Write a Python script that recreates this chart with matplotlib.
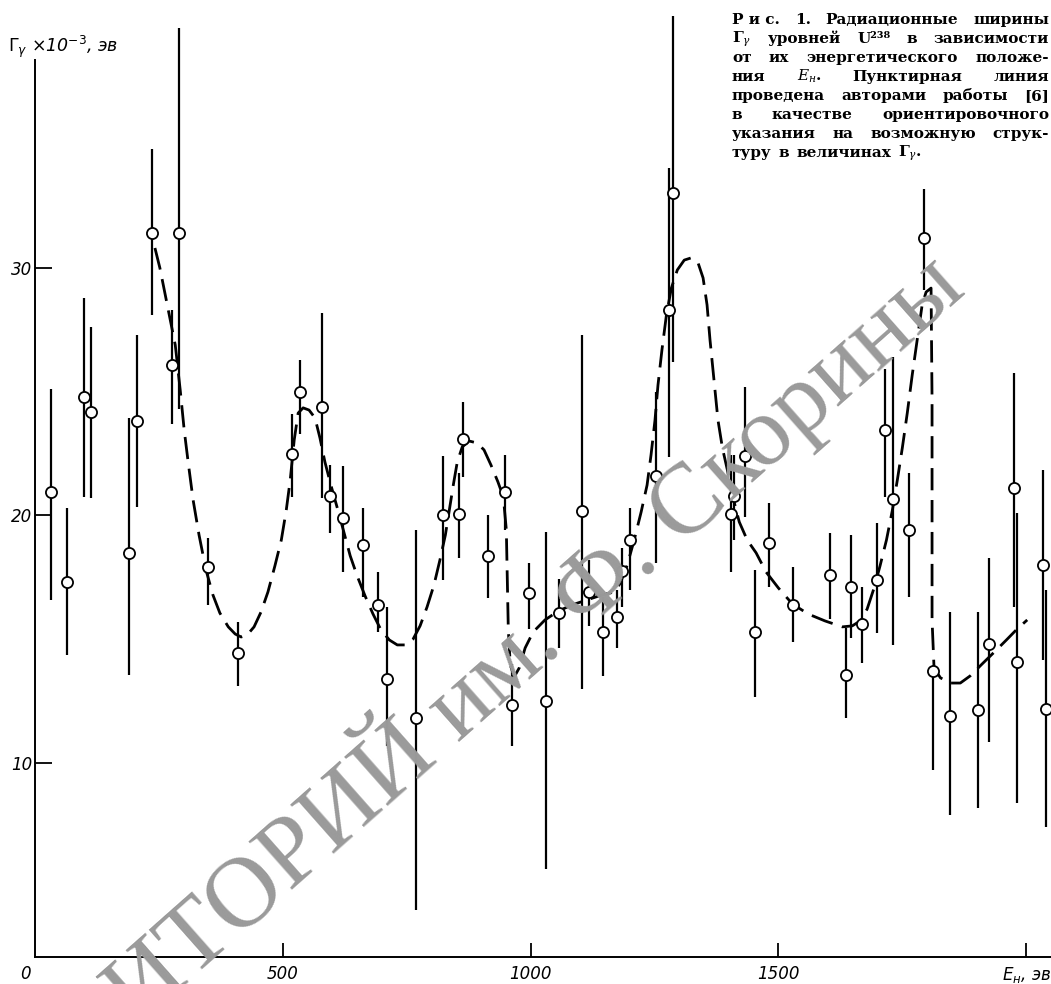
import matplotlib
matplotlib.use("Agg")
import matplotlib.pyplot as plt

# resonance energies, eV
E = [32, 65, 99, 113, 190, 206, 236, 277, 291, 349,
     410, 519, 535, 579, 596, 622, 662, 693, 711, 769,
     824, 856, 864, 915, 949, 963, 997, 1032, 1058, 1104,
     1118, 1147, 1175, 1185, 1201, 1252, 1280, 1288, 1405, 1411,
     1433, 1452, 1480, 1530, 1605, 1637, 1647, 1669, 1698, 1716,
     1732, 1763, 1793, 1811, 1847, 1902, 1925, 1975, 1982, 2033,
     2039]
# radiation widths, 10^-3 eV
G = [20.95, 17.3, 24.8, 24.2, 18.5, 23.8, 31.4, 26.1, 31.4, 17.9,
     14.45, 22.5, 25.0, 24.4, 20.8, 19.9, 18.8, 16.4, 13.4, 11.8,
     20.0, 20.05, 23.1, 18.35, 20.95, 12.35, 16.85, 12.5, 16.05, 20.2,
     16.9, 15.3, 15.9, 17.75, 19.0, 21.6, 28.3, 33.05, 20.05, 20.8,
     22.4, 15.3, 18.9, 16.4, 17.6, 13.55, 17.1, 15.6, 17.4, 23.45,
     20.65, 19.4, 31.2, 13.7, 11.9, 12.15, 14.8, 21.1, 14.1, 18.0,
     12.2]
G_lo = [16.6, 14.35, 20.75, 20.7, 13.55, 20.35, 28.1, 23.7, 24.3, 16.4,
        13.1, 20.75, 23.3, 20.7, 19.3, 17.7, 16.7, 15.3, 10.7, 4.05,
        17.4, 18.3, 21.55, 16.65, 19.4, 10.7, 15.4, 5.7, 14.65, 13.0,
        15.55, 13.5, 14.65, 16.3, 17.0, 18.1, 22.35, 26.2, 17.7, 19.0,
        19.95, 12.65, 17.1, 14.9, 15.8, 11.8, 15.05, 14.05, 15.25, 20.75,
        14.75, 16.7, 29.1, 9.7, 7.9, 8.2, 10.85, 16.3, 8.4, 14.15,
        7.4]
G_hi = [25.1, 20.3, 28.8, 27.6, 23.95, 27.3, 34.8, 28.3, 39.7, 19.1,
        15.7, 24.1, 26.3, 28.2, 22.05, 22.0, 20.3, 17.7, 16.3, 19.4,
        22.4, 21.7, 24.6, 20.0, 22.45, 14.0, 18.1, 19.35, 17.45, 27.3,
        18.2, 16.7, 17.0, 18.7, 20.3, 25.0, 34.05, 40.2, 22.45, 22.45,
        25.2, 17.8, 20.5, 17.9, 19.3, 15.45, 19.2, 17.1, 19.7, 25.9,
        26.4, 21.7, 33.2, 13.7, 16.1, 16.1, 18.3, 25.75, 20.1, 21.85,
        17.0]

# guide curve drawn through the data (dashed)
curve_E = [242, 252, 262, 273, 283, 293, 301, 309, 319, 331,
           345, 359, 373, 390, 404, 416, 428, 442, 456, 470,
           484, 497, 507, 515, 523, 531, 541, 553, 565, 575,
           585, 597, 610, 622, 636, 650, 666, 682, 698, 715,
           731, 747, 763, 777, 791, 805, 817, 828, 836, 844,
           852, 862, 876, 892, 906, 920, 934, 945, 951, 953,
           955, 959, 967, 977, 989, 1005, 1029, 1056, 1084, 1114,
           1144, 1169, 1181, 1195, 1209, 1223, 1235, 1243, 1251, 1257,
           1265, 1274, 1284, 1296, 1310, 1324, 1338, 1348, 1356, 1362,
           1370, 1378, 1387, 1397, 1407, 1421, 1437, 1455, 1475, 1500,
           1528, 1560, 1594, 1629, 1649, 1665, 1679, 1693, 1705, 1718,
           1730, 1740, 1750, 1760, 1770, 1780, 1790, 1798, 1808, 1810,
           1810, 1810, 1814, 1827, 1847, 1867, 1887, 1911, 1936, 1960,
           1980, 2002]
curve_G = [30.81, 30.0, 28.99, 27.9, 26.89, 25.07, 23.46, 22.16, 20.63, 19.21,
           17.8, 16.79, 16.06, 15.5, 15.21, 15.09, 15.17, 15.5, 16.1, 16.91,
           17.96, 19.01, 20.22, 21.44, 23.05, 24.14, 24.35, 24.26, 23.94, 23.13,
           22.16, 21.23, 20.3, 19.42, 18.37, 17.56, 16.75, 16.02, 15.38, 14.97,
           14.77, 14.77, 15.01, 15.54, 16.3, 17.19, 18.2, 19.21, 20.22, 21.23,
           22.16, 22.77, 23.01, 22.93, 22.65, 22.04, 21.36, 20.75, 19.42, 17.4,
           15.38, 13.96, 13.48, 13.84, 14.65, 15.29, 15.78, 16.14, 16.39, 16.59,
           16.79, 16.91, 17.27, 18.0, 19.01, 20.14, 21.23, 22.45, 23.86, 25.27,
           26.69, 28.1, 29.19, 29.92, 30.32, 30.41, 30.2, 29.6, 28.51, 27.09,
           25.48, 23.86, 22.73, 21.84, 20.83, 19.74, 19.01, 18.49, 17.72, 17.07,
           16.43, 16.02, 15.74, 15.5, 15.54, 15.74, 16.22, 17.07, 17.96, 19.01,
           20.22, 21.44, 22.73, 24.14, 25.68, 27.09, 28.51, 29.03, 29.19, 24.67,
           19.82, 15.78, 13.84, 13.44, 13.23, 13.23, 13.52, 14.0, 14.49, 14.97,
           15.38, 15.78]

caption = [
    "Р и с. 1. Радиационные ширины",
    r"$\mathbf{\Gamma}_{\gamma}$ уровней U²³⁸ в зависимости",
    "от их энергетического положе-",
    r"ния $E_{н}$. Пунктирная линия",
    "проведена авторами работы [6]",
    "в качестве ориентировочного",
    "указания на возможную струк-",
    r"туру в величинах $\mathbf{\Gamma}_{\gamma}$.",
]

W, H = 1051, 984
fig = plt.figure(figsize=(W / 100, H / 100), dpi=100)
fig.patch.set_facecolor("white")
ax = fig.add_axes([35 / W, 27 / H, (W - 35) / W, (H - 27) / H])
ax.set_xlim(0, 2050)
ax.set_ylim(2.16, 40.83)

for s in ["top", "right"]:
    ax.spines[s].set_visible(False)
ax.spines["left"].set_bounds(2.16, 38.4)
ax.spines["left"].set_linewidth(1.4)
ax.spines["bottom"].set_linewidth(1.4)

ax.set_xticks([500, 1000, 1500, 2000])
ax.set_xticklabels(["500", "1000", "1500", r"$E_{н}$, эв"])
ax.set_yticks([10, 20, 30])
ax.tick_params(axis="x", direction="in", length=10, width=1.3, pad=6, labelsize=12)
ax.tick_params(axis="y", direction="in", length=12, width=1.3, pad=2, labelsize=12)
for lbl in ax.get_xticklabels() + ax.get_yticklabels():
    lbl.set_style("italic")
    lbl.set_family("DejaVu Sans")

fig.text(25 / W, 1 - 965 / H, "0", ha="center", va="top", fontsize=12, style="italic")
fig.text(8 / W, 1 - 52 / H, r"$\mathit{\Gamma}_{\gamma}$ ×10$^{-3}$, эв",
         ha="left", va="baseline", fontsize=12.5, style="italic")

yerr = [[g - lo for g, lo in zip(G, G_lo)], [hi - g for g, hi in zip(G, G_hi)]]
ax.plot(curve_E, curve_G, color="black", lw=2.0, dashes=(8, 3.5), zorder=2)
ax.errorbar(E, G, yerr=yerr, fmt="o", ms=8, mfc="white", mec="black", mew=1.3,
            ecolor="black", elinewidth=1.6, capsize=0, zorder=3, clip_on=False)

# caption block, words spread between the margins (last line left as is)
renderer = fig.canvas.get_renderer()
x_left, x_right = 732, 1049
base0, step = 24, 19
for i, line in enumerate(caption):
    y = 1 - (base0 + step * i) / H
    if i == 0:
        words = ["Р и с.", "1.", "Радиационные", "ширины"]
    else:
        words = line.split(" ")
    texts = [fig.text(0, y, w, fontsize=11, fontweight="bold", family="DejaVu Serif",
                      math_fontfamily="dejavuserif", va="baseline", ha="left")
             for w in words]
    widths = [t.get_window_extent(renderer).width for t in texts]
    if i == len(caption) - 1:
        gap = 7
    else:
        gap = max(6, (x_right - x_left - sum(widths)) / (len(words) - 1))
    x = x_left
    for t, w in zip(texts, widths):
        t.set_x(x / W)
        x += w + gap

# library stamp across the page
fig.text(968 / W, 1 - 292 / H, "РЕПОЗИТОРИЙ им. Ф. Скорины", rotation=41.5,
         rotation_mode="anchor", ha="right", va="baseline", fontsize=72,
         family="Liberation Serif", color="#9a9a9a", zorder=10)

fig.savefig("out.png", dpi=100, facecolor="white")
